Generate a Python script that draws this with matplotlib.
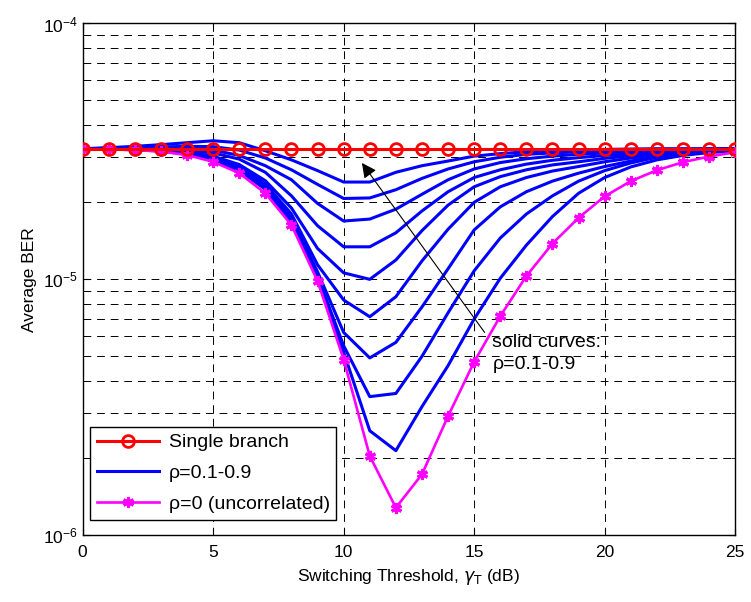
import matplotlib
matplotlib.use("Agg")
import matplotlib.pyplot as plt
import numpy as np

plt.rcParams['font.family'] = ['Liberation Sans', 'DejaVu Sans']
plt.rcParams['mathtext.fontset'] = 'dejavusans'

# switching threshold (dB)
gamma_t = np.arange(0, 26)

# single branch reference
ber_single = [3.24e-5] * 26

# uncorrelated branches (rho = 0), units of 1e-5
ber_rho0 = [3.23, 3.22, 3.2, 3.16, 3.06, 2.88, 2.6, 2.17, 1.63, 0.985, 0.486, 0.204, 0.128,
            0.173, 0.292, 0.476, 0.718, 1.03, 1.38, 1.74, 2.11, 2.42, 2.67, 2.87, 3.02, 3.14]

# correlated branches, rho = 0.1 ... 0.9 (units of 1e-5)
ber_rho = {
    0.1: [3.24, 3.23, 3.21, 3.17, 3.08, 2.92, 2.66, 2.25, 1.68, 1.0, 0.52, 0.256, 0.214,
          0.318, 0.46, 0.70, 1.01, 1.36, 1.76, 2.17, 2.5, 2.75, 2.93, 3.05, 3.13, 3.18],
    0.2: [3.24, 3.23, 3.21, 3.18, 3.1, 2.94, 2.69, 2.28, 1.71, 1.03, 0.55, 0.348, 0.358,
          0.50, 0.74, 1.08, 1.45, 1.80, 2.12, 2.42, 2.66, 2.85, 3.0, 3.1, 3.16, 3.2],
    0.3: [3.24, 3.23, 3.22, 3.19, 3.11, 2.96, 2.72, 2.31, 1.75, 1.07, 0.62, 0.493, 0.567,
          0.78, 1.1, 1.56, 1.92, 2.2, 2.42, 2.6, 2.76, 2.9, 3.02, 3.1, 3.16, 3.2],
    0.4: [3.24, 3.23, 3.22, 3.2, 3.13, 2.99, 2.76, 2.36, 1.8, 1.14, 0.83, 0.714, 0.855,
          1.18, 1.57, 2.0, 2.3, 2.5, 2.65, 2.76, 2.88, 2.98, 3.06, 3.12, 3.17, 3.2],
    0.5: [3.24, 3.24, 3.23, 3.21, 3.15, 3.03, 2.81, 2.43, 1.9, 1.32, 1.06, 1.0, 1.19,
          1.55, 1.95, 2.3, 2.52, 2.68, 2.8, 2.88, 2.97, 3.04, 3.1, 3.15, 3.18, 3.21],
    0.6: [3.24, 3.24, 3.24, 3.23, 3.19, 3.12, 2.95, 2.62, 2.12, 1.62, 1.34, 1.34, 1.52,
          1.85, 2.2, 2.5, 2.68, 2.82, 2.92, 2.99, 3.05, 3.1, 3.14, 3.17, 3.2, 3.22],
    0.7: [3.24, 3.25, 3.25, 3.26, 3.25, 3.2, 3.05, 2.78, 2.45, 1.98, 1.69, 1.72, 1.88,
          2.15, 2.45, 2.7, 2.86, 2.96, 3.03, 3.08, 3.12, 3.16, 3.18, 3.2, 3.22, 3.23],
    0.8: [3.24, 3.25, 3.27, 3.29, 3.31, 3.3, 3.2, 2.98, 2.68, 2.35, 2.07, 2.08, 2.24,
          2.48, 2.7, 2.88, 3.0, 3.08, 3.12, 3.15, 3.18, 3.2, 3.21, 3.22, 3.23, 3.24],
    0.9: [3.24, 3.27, 3.31, 3.36, 3.42, 3.48, 3.42, 3.18, 2.93, 2.66, 2.40, 2.40, 2.62,
          2.78, 2.9, 3.03, 3.1, 3.15, 3.18, 3.2, 3.22, 3.23, 3.24, 3.24, 3.24, 3.24],
}

fig = plt.figure(figsize=(7.51, 6.02), dpi=100)
ax = fig.add_axes([0.110, 0.111, 0.869, 0.850])

dash = (0, (8, 6))
ax.grid(True, which='major', axis='both', color='k', linestyle=dash, linewidth=0.7)
ax.grid(True, which='minor', axis='y', color='k', linestyle=dash, linewidth=0.7)

for i, rho in enumerate(sorted(ber_rho)):
    ax.semilogy(gamma_t, np.array(ber_rho[rho]) * 1e-5, color='#0000ff', linewidth=2.2,
                label='ρ=0.1-0.9' if i == 0 else None, zorder=3)

ax.semilogy(gamma_t, np.array(ber_rho0) * 1e-5, color='#ff00ff', linewidth=1.9,
            marker=(6, 2, 0), markersize=8, markeredgewidth=2.2,
            label='ρ=0 (uncorrelated)', zorder=4)

ax.semilogy(gamma_t, ber_single, color='#ff0000', linewidth=2.2, marker='o', markersize=8.5,
            markerfacecolor='none', markeredgewidth=2.0, label='Single branch', zorder=5)

ax.set_xlim(0, 25)
ax.set_ylim(1e-6, 1e-4)
ax.set_xticks([0, 5, 10, 15, 20, 25])
ax.tick_params(which='both', direction='in', top=True, right=True, labelsize=12.5)
ax.tick_params(axis='x', pad=7)
ax.tick_params(which='major', length=5)
ax.tick_params(which='minor', length=3)
for s in ax.spines.values():
    s.set_linewidth(1.0)

ax.set_xlabel('Switching Threshold, $\\gamma_\\mathrm{T}$ (dB)', fontsize=12.5, labelpad=5)
ax.set_ylabel('Average BER', fontsize=12.5)

ax.annotate('', xy=(10.7, 2.85e-5), xytext=(15.4, 6.2e-6),
            arrowprops=dict(arrowstyle='-|>', color='k', lw=0.8,
                            mutation_scale=22, shrinkA=0, shrinkB=0), zorder=6)
ax.text(15.7, 6.1e-6, 'solid curves:\nρ=0.1-0.9', fontsize=14, va='top', ha='left',
        linespacing=1.35, zorder=6)

handles, labels = ax.get_legend_handles_labels()
order = [labels.index('Single branch'), labels.index('ρ=0.1-0.9'),
         labels.index('ρ=0 (uncorrelated)')]
leg = ax.legend([handles[i] for i in order], [labels[i] for i in order],
                loc='lower left', bbox_to_anchor=(0.011, 0.03), borderaxespad=0,
                fontsize=14, fancybox=False, edgecolor='k', framealpha=1,
                handlelength=3.2, handletextpad=0.5, labelspacing=0.68, borderpad=0.35)
leg.get_frame().set_linewidth(1.0)

fig.savefig('out.png', dpi=100)
